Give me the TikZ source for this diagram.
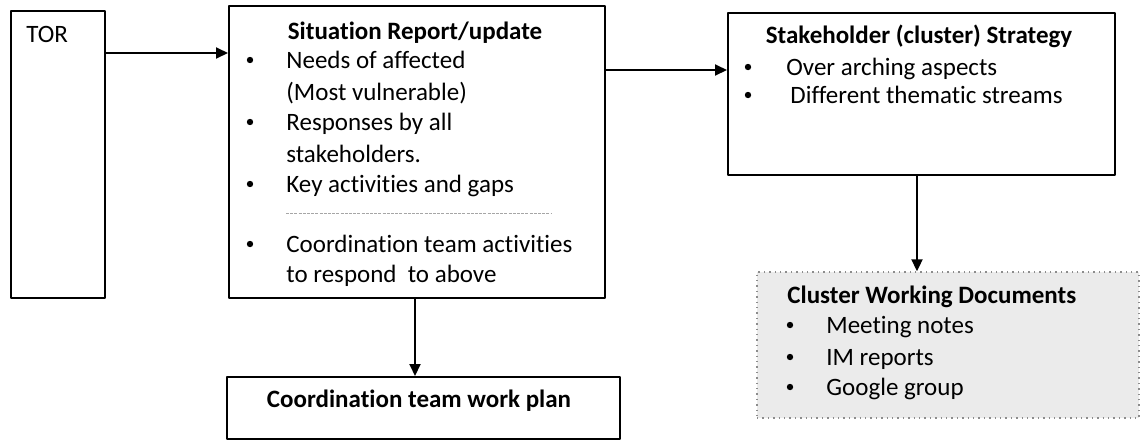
\documentclass[tikz,border=0pt]{standalone}
\usepackage{fontspec}
\setmainfont[Ligatures=NoCommon]{Carlito}
\usetikzlibrary{arrows.meta,fit}
\tikzset{
	box/.style={draw, line width=1pt, inner sep=0pt},
	docbox/.style={draw=black!45, dotted, fill=black!8, line width=0.7pt, inner sep=0pt},
	head/.style={font=\fontsize{12.5}{15}\selectfont\bfseries, anchor=base, inner sep=0pt},
	item/.style={anchor=base west, inner sep=0pt},
	link/.style={->, line width=1pt},
	rule/.style={dash pattern=on 1.5pt off 0.6pt, black!35, line width=0.5pt}
}
\begin{document}
\begin{tikzpicture}[x=0.5pt, y=-0.5pt, font=\fontsize{12.5}{15}\selectfont, line join=round, >={Triangle[length=6pt,width=5.5pt]}]
			\useasboundingbox (0,0) rectangle (1141,440);
			\node[box, fit={(11,11) (105,298)}] (tor) {};
			\node[box, fit={(229,6) (605,298)}] (sitrep) {};
			\node[box, fit={(728,13) (1115,175)}] (strategy) {};
			\node[docbox, fit={(757,272) (1139,418)}] (docs) {};
			\node[box, fit={(227,377) (620,439)}] (plan) {};
			\node[item] (tor-label) at (26,42) {TOR};
			% situation report
			\node[head] (sitrep-title) at (415,39) {Situation Report/update};
			\foreach \t/\y [count=\i] in {Needs of affected/68, {(Most vulnerable)}/100, Responses by all/130, stakeholders./162, Key activities and gaps/192, Coordination team activities/252, to respond\ \ to above/282}
				\node[item] (sitrep-\i) at (286,\y) {\t};
			\foreach \y in {68,130,192,252}\fill (250,\y-8) circle (1.6pt);
			\draw[rule] (286,213)--(552,213);
			% strategy
			\node[head] (strategy-title) at (919,43) {Stakeholder (cluster) Strategy};
			\node[item] (strategy-1) at (786,75) {Over arching aspects};
			\node[item] (strategy-2) at (790,103) {Different thematic streams};
			\foreach \y in {75,103}\fill (748,\y-8) circle (1.6pt);
			% working documents
			\node[head, anchor=base west] (docs-title) at (787,303) {Cluster Working Documents};
			\foreach \t/\y [count=\i] in {Meeting notes/333, IM reports/365, Google group/395}
				\node[item] (docs-\i) at (826,\y) {\t};
			\foreach \y in {333,365,395}\fill (790,\y-8) circle (1.6pt);
			\node[head] (plan-title) at (419,407) {Coordination team work plan};
			% links
			\draw[link] (tor.east |- 0,53)--(sitrep.west |- 0,53);
			\draw[link] (sitrep.east |- 0,70)--(strategy.west |- 0,70);
			\draw[link] (strategy.south -| 917,0)--(docs.north -| 917,0);
			\draw[link] (sitrep.south -| 415,0)--(plan.north -| 415,0);
\end{tikzpicture}
\end{document}
